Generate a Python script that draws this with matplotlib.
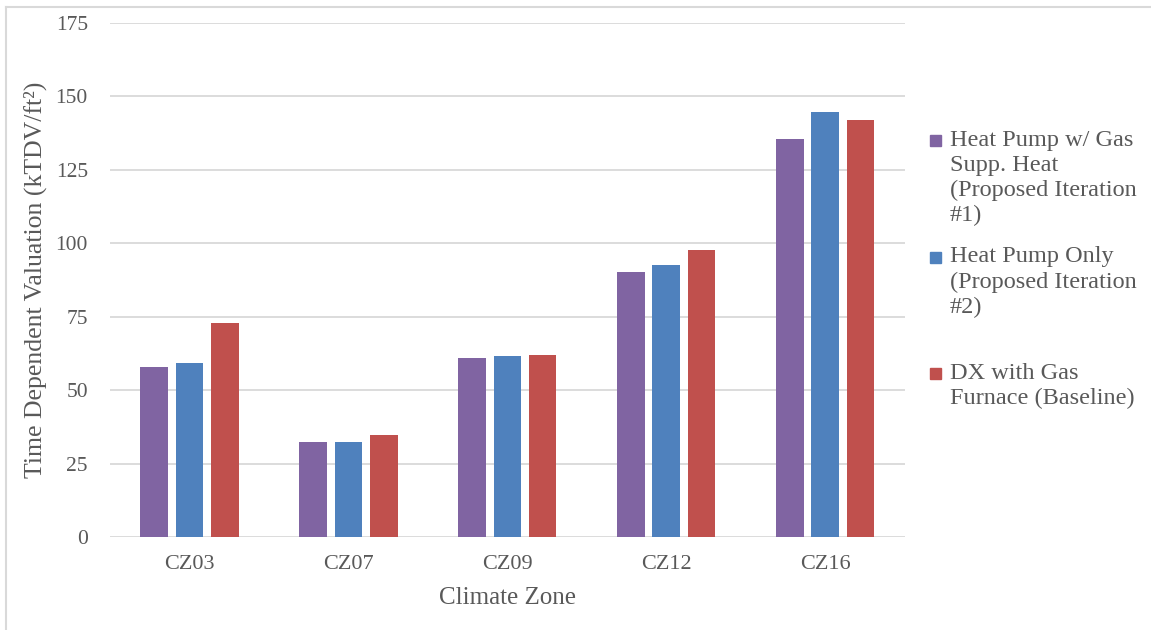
import matplotlib.pyplot as plt
from matplotlib.patches import Rectangle
from matplotlib.lines import Line2D
import numpy as np

plt.rcParams['font.family'] = ['Liberation Serif', 'DejaVu Serif']

zones = ['CZ03', 'CZ07', 'CZ09', 'CZ12', 'CZ16']
hp_gas_supp = [58.0, 32.2, 60.9, 90.1, 135.5]
hp_only = [59.2, 32.3, 61.5, 92.6, 144.7]
dx_furnace = [72.9, 34.6, 62.0, 97.7, 141.9]

series_names = ['Heat Pump w/ Gas\nSupp. Heat\n(Proposed Iteration\n#1)',
                'Heat Pump Only\n(Proposed Iteration\n#2)',
                'DX with Gas\nFurnace (Baseline)']
colors = ['#8064A2', '#4F81BD', '#C0504D']
yticks = [0, 25, 50, 75, 100, 125, 150, 175]

txt = '#595959'
grid = '#D9D9D9'

fig = plt.figure(figsize=(11.51, 6.30), dpi=100)
ax = fig.add_axes([0.0956, 0.1476, 0.6904, 0.8159])

x = np.arange(len(zones))
step = 0.222
w = 0.174
for i, (vals, c) in enumerate(zip([hp_gas_supp, hp_only, dx_furnace], colors)):
    ax.bar(x + (i - 1) * step, vals, width=w, color=c, zorder=3)

ax.set_xlim(-0.5, len(zones) - 0.5)
ax.set_ylim(0, 175)
ax.set_yticks(yticks)
ax.set_xticks(x)
ax.set_xticklabels(zones)
ax.grid(axis='y', color=grid, lw=1.3, zorder=0)
ax.tick_params(length=0, colors=txt)
ax.tick_params(axis='y', pad=16, labelsize=15.5)
ax.tick_params(axis='x', pad=13, labelsize=16)
for s in ax.spines.values():
    s.set_visible(False)

ax.set_xlabel('Climate Zone', fontsize=18, color=txt, labelpad=9)
ax.set_ylabel('Time Dependent Valuation (kTDV/ft²)', fontsize=18.5, color=txt, labelpad=6)

# legend drawn by hand so entries get equal slots like the spreadsheet version
W, H = 1151, 630
tops = [130, 246.5, 363]
for name, c, top in zip(series_names, colors, tops):
    fig.patches.append(Rectangle((930 / W, 1 - (top + 16) / H), 11 / W, 11 / H,
                                 transform=fig.transFigure, color=c))
    fig.text(950 / W, 1 - top / H, name, fontsize=17.5, color=txt,
             va='top', ha='left', linespacing=1.25)

# outer chart frame
fig.add_artist(Line2D([6 / W, 6 / W], [0, 1 - 7 / H], transform=fig.transFigure,
                      color='#D9D9D9', lw=1.5))
fig.add_artist(Line2D([6 / W, 1], [1 - 7 / H, 1 - 7 / H], transform=fig.transFigure,
                      color='#D9D9D9', lw=1.5))

fig.savefig('out.png', dpi=100)
